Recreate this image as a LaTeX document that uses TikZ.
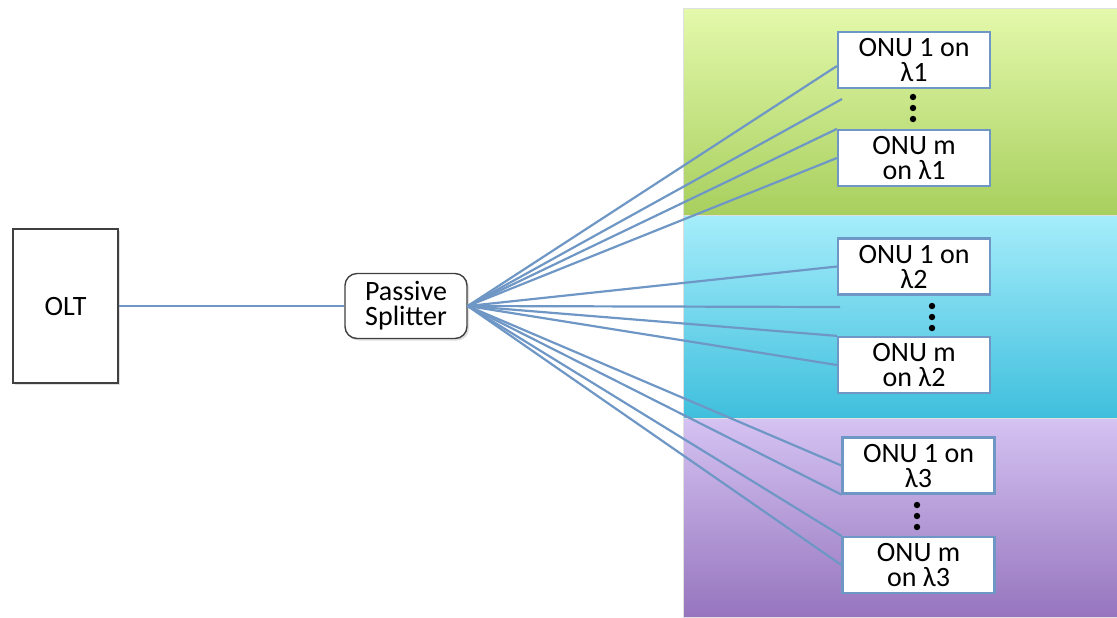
\documentclass[tikz,border=0pt]{standalone}
\usepackage{fontspec}
\setmainfont{Carlito}
\usepackage{tikz}
\usetikzlibrary{positioning, arrows.meta, shapes, calc, shadows}
\definecolor{fiber}{HTML}{6F97C6}
\definecolor{greenTop}{HTML}{E4F9AC}
\definecolor{greenBot}{HTML}{A8CF5E}
\definecolor{cyanTop}{HTML}{A6EDFB}
\definecolor{cyanBot}{HTML}{3FBFDD}
\definecolor{purpleTop}{HTML}{D5C3F2}
\definecolor{purpleBot}{HTML}{9675BE}

\begin{document}
\begin{tikzpicture}[
    x=0.5pt, y=-0.5pt,
    font=\fontsize{14}{12.5}\selectfont,
    onu/.style={rectangle, draw=fiber, line width=1.1pt, fill=white, minimum width=76pt, minimum height=28pt, align=center, inner sep=1pt},
    olt/.style={rectangle, draw=black!75, line width=0.7pt, fill=white, minimum width=52.5pt, minimum height=77pt, drop shadow={shadow xshift=1pt, shadow yshift=-1pt, opacity=0.25}},
    splitter/.style={rectangle, rounded corners=6pt, draw=black!75, line width=0.7pt, fill=white, minimum width=61pt, minimum height=32.5pt, align=center, inner sep=1pt, drop shadow={shadow xshift=1pt, shadow yshift=-1pt, opacity=0.25}},
    band/.style={draw=black!12, line width=0.5pt},
    fiberline/.style={draw=fiber, line width=1.1pt}
]
\useasboundingbox (0,0) rectangle (1117,617);

% Wavelength bands on the right
\path[band, top color=greenTop, bottom color=greenBot] (683,8) rectangle (1117,215);
\path[band, top color=cyanTop, bottom color=cyanBot] (683,215) rectangle (1117,418);
\path[band, top color=purpleTop, bottom color=purpleBot] (683,418) rectangle (1117,617);

% OLT and splitter
\node[olt] (olt) at (65.5,306) {OLT};
\node[splitter] (splitter) at (406,306) {Passive\\Splitter};
\draw[fiberline] (olt) -- (splitter);

% ONUs per wavelength
\node[onu] (onu1a) at (914,60) {ONU 1 on\\λ1};
\node[onu] (onu1m) at (914,158) {ONU m\\on λ1};
\node[onu] (onu2a) at (914,266.5) {ONU 1 on\\λ2};
\node[onu] (onu2m) at (914,365) {ONU m\\on λ2};
\node[onu] (onu3a) at (918.5,465.5) {ONU 1 on\\λ3};
\node[onu] (onu3m) at (918.5,565) {ONU m\\on λ3};

% Dots between ONU 1 and ONU m
\foreach \x/\y in {913/97, 932/306, 917/505} {
    \foreach \d in {0,11,22} {
        \fill (\x,\y+\d) circle (1.6pt);
    }
}

% Fibers from the splitter
\coordinate (in1a) at ([yshift=-3pt]onu1a.west);
\coordinate (free1) at (842,99);
\coordinate (free2) at (840,307);
\foreach \target in {in1a, free1, onu1m.north west, onu1m.west,
                     onu2a.west, free2, onu2m.north west, onu2m.west,
                     onu3a.west, onu3a.south west, onu3m.north west, onu3m.west} {
    \draw[fiberline] (splitter.east) -- (\target);
}

\end{tikzpicture}
\end{document}
